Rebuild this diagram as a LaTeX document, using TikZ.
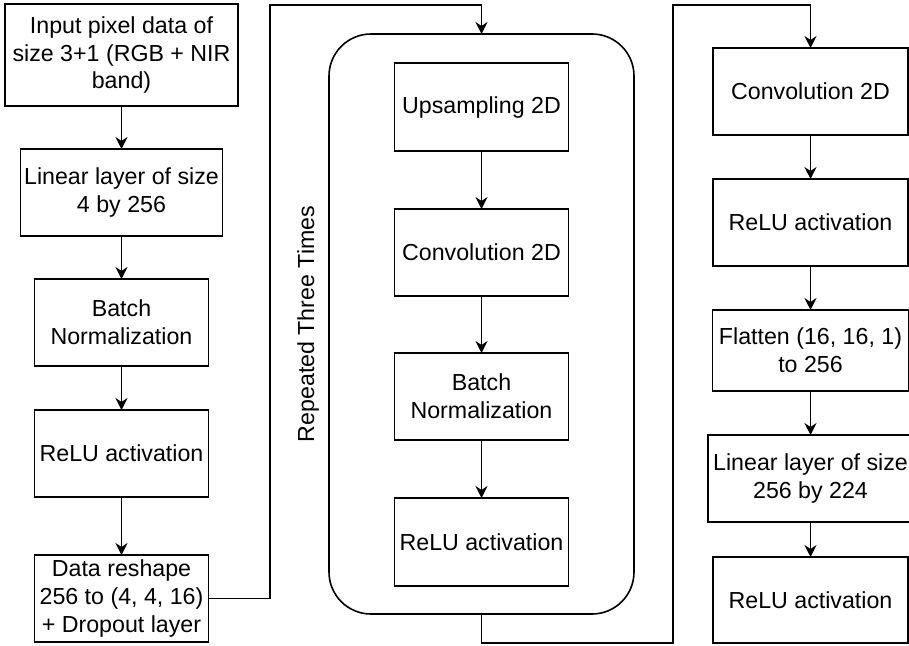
\documentclass[tikz,border=0pt]{standalone}
\usepackage{fontspec}
\setmainfont{Liberation Sans}
\usetikzlibrary{arrows.meta}
\begin{document}
\begin{tikzpicture}[x=1pt,y=-1pt,
  box/.style={draw, line width=1.6pt, rectangle, inner sep=0pt, outer sep=0pt, align=center,
    font=\fontsize{23.2}{27.8}\selectfont},
  arr/.style={draw, line width=1.6pt, -{Stealth[length=12pt,width=12pt,inset=4pt]}},
  conn/.style={draw, line width=1.6pt}]
\useasboundingbox (0,0) rectangle (909,645);
% column 1
\node[box, minimum width=233, minimum height=102] (a1) at (121.5,55) {Input pixel data of\\size 3+1 (RGB + NIR\\band)};
\node[box, minimum width=202, minimum height=87] (a2) at (121.5,192.5) {Linear layer of size\\4 by 256};
\node[box, minimum width=174, minimum height=87] (a3) at (121.5,322.5) {Batch\\Normalization};
\node[box, minimum width=174, minimum height=87] (a4) at (121.5,453.5) {ReLU activation};
\node[box, minimum width=174, minimum height=87] (a5) at (121.5,598.5) {Data reshape\\256 to (4, 4, 16)\\+ Dropout layer};
% column 2
\node[draw, line width=1.6pt, rounded corners=42pt, minimum width=305, minimum height=580, inner sep=0pt, outer sep=0pt] (rb) at (481.5,324) {};
\node[box, minimum width=174, minimum height=88] (b1) at (481.5,107) {Upsampling 2D};
\node[box, minimum width=174, minimum height=87] (b2) at (481.5,252.5) {Convolution 2D};
\node[box, minimum width=174, minimum height=87] (b3) at (481.5,396.5) {Batch\\Normalization};
\node[box, minimum width=174, minimum height=88] (b4) at (481.5,542) {ReLU activation};
\node[rotate=90, font=\fontsize{23.2}{27.8}\selectfont, inner sep=0pt] (rep) at (308,324) {Repeated Three Times};
% column 3
\node[box, minimum width=195, minimum height=87] (c1) at (810.5,91.5) {Convolution 2D};
\node[box, minimum width=195, minimum height=87] (c2) at (810.5,222.5) {ReLU activation};
\node[box, minimum width=196, minimum height=81] (c3) at (810.5,350.5) {Flatten (16, 16, 1)\\to 256};
\node[box, minimum width=205, minimum height=87] (c4) at (810.5,478.5) {Linear layer of size\\256 by 224};
\node[box, minimum width=195, minimum height=86] (c5) at (810.5,600) {ReLU activation};
% junction points
\coordinate (j1) at (270,5);
\coordinate (j2) at (673,643);
\coordinate (j3) at (673,5);
% connectors
\draw[arr] (a1) -- (a2);
\draw[arr] (a2) -- (a3);
\draw[arr] (a3) -- (a4);
\draw[arr] (a4) -- (a5);
\draw[arr] (a5.east) -| (j1) -| (rb.north);
\draw[arr] (b1) -- (b2);
\draw[arr] (b2) -- (b3);
\draw[arr] (b3) -- (b4);
\draw[arr] (rb.south) |- (j2) -- (j3) -| (c1.north);
\draw[arr] (c1) -- (c2);
\draw[arr] (c2) -- (c3);
\draw[arr] (c3) -- (c4);
\draw[arr] (c4) -- (c5);
\end{tikzpicture}
\end{document}
